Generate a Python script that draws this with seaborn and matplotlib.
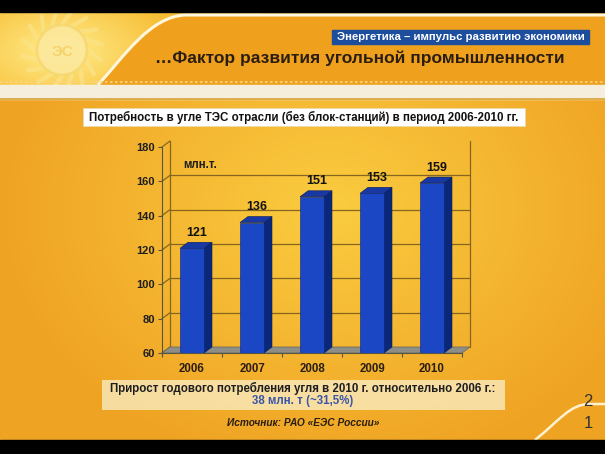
import numpy as np
import matplotlib
matplotlib.use("Agg")
import matplotlib.pyplot as plt
import seaborn as sns
from matplotlib.patches import Polygon, Rectangle, Circle
from matplotlib.path import Path
import matplotlib.patches as mpatches

# ---------------- data ----------------
years = ["2006", "2007", "2008", "2009", "2010"]
values = [121, 136, 151, 153, 159]
yticks = [60, 80, 100, 120, 140, 160, 180]
unit_label = "млн.т."
header_tag = "Энергетика – импульс развитию экономики"
slide_title = "…Фактор развития угольной промышленности"
chart_title = "Потребность в угле ТЭС отрасли (без блок-станций) в период 2006-2010 гг."
note_line1 = "Прирост годового потребления угля в 2010 г. относительно 2006 г.:"
note_line2 = "38 млн. т (~31,5%)"
source = "Источник: РАО «ЕЭС России»"
page_num = ["2", "1"]

sns.set_theme(style="white")
FONT = ["Liberation Sans", "DejaVu Sans"]
plt.rcParams["font.family"] = FONT

W, H = 605, 454
fig = plt.figure(figsize=(W / 100, H / 100), dpi=100)

# ---------------- background (pixel coords) ----------------
bg = fig.add_axes([0, 0, 1, 1])
bg.set_xlim(0, W)
bg.set_ylim(H, 0)
bg.axis("off")

yy, xx = np.mgrid[0:H, 0:W]
r = np.sqrt(((xx - 330) / 330.0) ** 2 + ((yy - 210) / 260.0) ** 2)
t = np.clip(r, 0, 1)[..., None]
c_in = np.array([0.98, 0.80, 0.25])
c_out = np.array([0.94, 0.64, 0.14])
img = c_in * (1 - t) + c_out * t
bg.imshow(img, extent=[0, W, H, 0], zorder=0, aspect="auto")

# header banner
bg.add_patch(Rectangle((0, 12), W, 73, color="#F0A21E", zorder=1))
# left sun area
SW = 260
yy2, xx2 = np.mgrid[0:73, 0:SW]
r2 = np.sqrt(((xx2 - 60) / 120.0) ** 2 + ((yy2 - 38) / 65.0) ** 2)
t2 = np.clip(r2, 0, 1)[..., None]
sun = np.array([1.0, 0.93, 0.55]) * (1 - t2) + np.array([0.97, 0.74, 0.20]) * t2
bg.imshow(sun, extent=[0, SW, 85, 12], zorder=1.5, aspect="auto")
# orange part right of swoosh
verts = [(98, 85), (125, 55), (150, 17), (185, 15), (W, 15), (W, 85), (98, 85)]
codes = [Path.MOVETO, Path.CURVE4, Path.CURVE4, Path.CURVE4, Path.LINETO, Path.LINETO, Path.CLOSEPOLY]
bg.add_patch(mpatches.PathPatch(Path(verts, codes), facecolor="#EFA01C", edgecolor="none", zorder=2))
sw = [(98, 85), (125, 55), (150, 17), (185, 15), (W, 15)]
sw_codes = [Path.MOVETO, Path.CURVE4, Path.CURVE4, Path.CURVE4, Path.LINETO]
bg.add_patch(mpatches.PathPatch(Path(sw, sw_codes), facecolor="none", edgecolor="#FFF6DC", lw=2.2, zorder=2.2))
# sun logo
for ang in np.linspace(0, 2 * np.pi, 16, endpoint=False):
    x0, y0 = 62 + 26 * np.cos(ang), 50 + 26 * np.sin(ang)
    x1, y1 = 62 + 40 * np.cos(ang + 0.25), 50 + 40 * np.sin(ang + 0.25)
    bg.plot([x0, x1], [y0, y1], color="#FBE38A", lw=3, alpha=0.7, zorder=1.8, solid_capstyle="round")
bg.add_patch(Circle((62, 50), 25, facecolor="#FCE9A0", edgecolor="#F7D870", lw=2, alpha=0.85, zorder=1.9))
bg.text(62, 52, "ЭС", ha="center", va="center", fontsize=11, fontweight="bold", color="#F5D36A", zorder=1.95)

# dotted line + light strip
bg.plot([0, W], [82, 82], color="#F8D58A", lw=1.2, ls=(0, (1.5, 1.5)), zorder=2.5)
bg.add_patch(Rectangle((0, 85), W, 14, color="#F6EEDD", zorder=2.5))
bg.plot([0, W], [99, 99], color="#D9A233", lw=1.2, zorder=2.6)

# black bars top / bottom
bg.add_patch(Rectangle((0, 0), W, 12, color="black", zorder=5))
bg.add_patch(Rectangle((0, 440), W, 14, color="black", zorder=5))

# header tag
bg.add_patch(Rectangle((332, 30), 257, 14, color="#1D4E9E", zorder=3))
bg.text(460.5, 37, header_tag, ha="center", va="center", fontsize=8.2, fontweight="bold", color="white", zorder=4)
bg.text(155, 58, slide_title, ha="left", va="center", fontsize=12.5, fontweight="bold", color="#2A1E12", zorder=4)

# chart title box
bg.add_patch(Rectangle((83, 108), 442, 18, facecolor="white", edgecolor="#E8D9B0", lw=0.5, zorder=3))
bg.text(304, 117, chart_title, ha="center", va="center", fontsize=8.3, fontweight="bold", color="#111111", zorder=4)

# note box
bg.add_patch(Rectangle((102, 380), 403, 30, facecolor="#FAEBC0", edgecolor="none", alpha=0.8, zorder=3))
bg.text(303, 388, note_line1, ha="center", va="center", fontsize=8.3, fontweight="bold", color="#1E1E1E", zorder=4)
bg.text(303, 401, note_line2, ha="center", va="center", fontsize=8.3, fontweight="bold", color="#3A55A8", zorder=4)
bg.text(303, 423, source, ha="center", va="center", fontsize=7.3, fontweight="bold", fontstyle="italic",
        color="#2A1E12", zorder=4)

# bottom-right swoosh & page number
sw2 = [(535, 440), (560, 420), (570, 404), (590, 404), (W, 404)]
bg.add_patch(mpatches.PathPatch(Path(sw2, sw_codes), facecolor="none", edgecolor="#FFF2D0", lw=1.8, zorder=3))
bg.text(588, 402, page_num[0], ha="center", va="center", fontsize=12, color="#333333", zorder=4)
bg.text(588, 423, page_num[1], ha="center", va="center", fontsize=12, color="#333333", zorder=4)

# ---------------- chart ----------------
ax = fig.add_axes([162 / W, (H - 353) / H, 300 / W, 206 / H])
ax.patch.set_alpha(0)
front = "#1B47C4"
side = "#0B2878"
topc = "#1838A4"
sns.barplot(x=years, y=values, width=0.4, color=front, saturation=1, ax=ax, zorder=3)
ax.set_ylim(60, 180)
ax.set_xlim(-0.5, 4.5)

DX = 8 / 60.0
DY = 6 * 120 / 206.0
grid_c = "#86661E"
# floor
ax.add_patch(Polygon([(-0.5, 60), (4.5, 60), (4.5 + DX, 60 + DY), (-0.5 + DX, 60 + DY)],
                     closed=True, facecolor="#8E8E86", edgecolor="#6E6E66", lw=0.6, zorder=1, clip_on=False))
# back wall gridlines
for yv in yticks[1:-1]:
    ax.plot([-0.5 + DX, 4.5 + DX], [yv + DY, yv + DY], color=grid_c, lw=0.9, zorder=0.8, clip_on=False)
for yv in yticks:
    ax.plot([-0.5, -0.5 + DX], [yv, yv + DY], color=grid_c, lw=0.9, zorder=0.8, clip_on=False)
ax.plot([-0.5 + DX, -0.5 + DX], [60 + DY, 180 + DY], color=grid_c, lw=0.9, zorder=0.8, clip_on=False)
ax.plot([4.5 + DX, 4.5 + DX], [60 + DY, 180 + DY], color=grid_c, lw=0.9, zorder=0.8, clip_on=False)

for p, v in zip(ax.patches[:len(values)], values):
    x0 = p.get_x()
    x1 = x0 + p.get_width()
    p.set_edgecolor("#0A2470")
    p.set_linewidth(0.4)
    ax.add_patch(Polygon([(x1, 60), (x1 + DX, 60 + DY), (x1 + DX, v + DY), (x1, v)], closed=True,
                         facecolor=side, edgecolor="#071C5A", lw=0.4, zorder=2.9, clip_on=False))
    ax.add_patch(Polygon([(x0, v), (x1, v), (x1 + DX, v + DY), (x0 + DX, v + DY)], closed=True,
                         facecolor=topc, edgecolor="#071C5A", lw=0.4, zorder=2.9, clip_on=False))
    ax.text((x0 + x1) / 2 + 0.08, v + 9, str(v), ha="center", va="center", fontsize=9,
            fontweight="bold", color="#111111", zorder=5, clip_on=False)

ax.text(-0.15, 169.5, unit_label, ha="left", va="center", fontsize=8.3, fontweight="bold", color="#1E1E1E")

for s in ["top", "right"]:
    ax.spines[s].set_visible(False)
for s in ["left", "bottom"]:
    ax.spines[s].set_color("#555544")
    ax.spines[s].set_linewidth(0.8)
ax.set_yticks(yticks)
ax.set_yticklabels([str(v) for v in yticks], fontsize=8, fontweight="bold", color="#1E1E1E")
ax.tick_params(axis="y", length=3, width=0.8, color="#555544", pad=2, left=True)
ax.set_xticks(range(len(years)))
ax.set_xticklabels(years, fontsize=8.3, fontweight="bold", color="#2A1E12")
ax.tick_params(axis="x", length=0, pad=7)
ax.set_xticks(np.arange(-0.5, 5, 1), minor=True)
ax.tick_params(axis="x", which="minor", length=3, width=0.8, color="#555544", bottom=True)
ax.set_xlabel("")
ax.set_ylabel("")
ax.grid(False)

fig.savefig("out.png", dpi=100)
